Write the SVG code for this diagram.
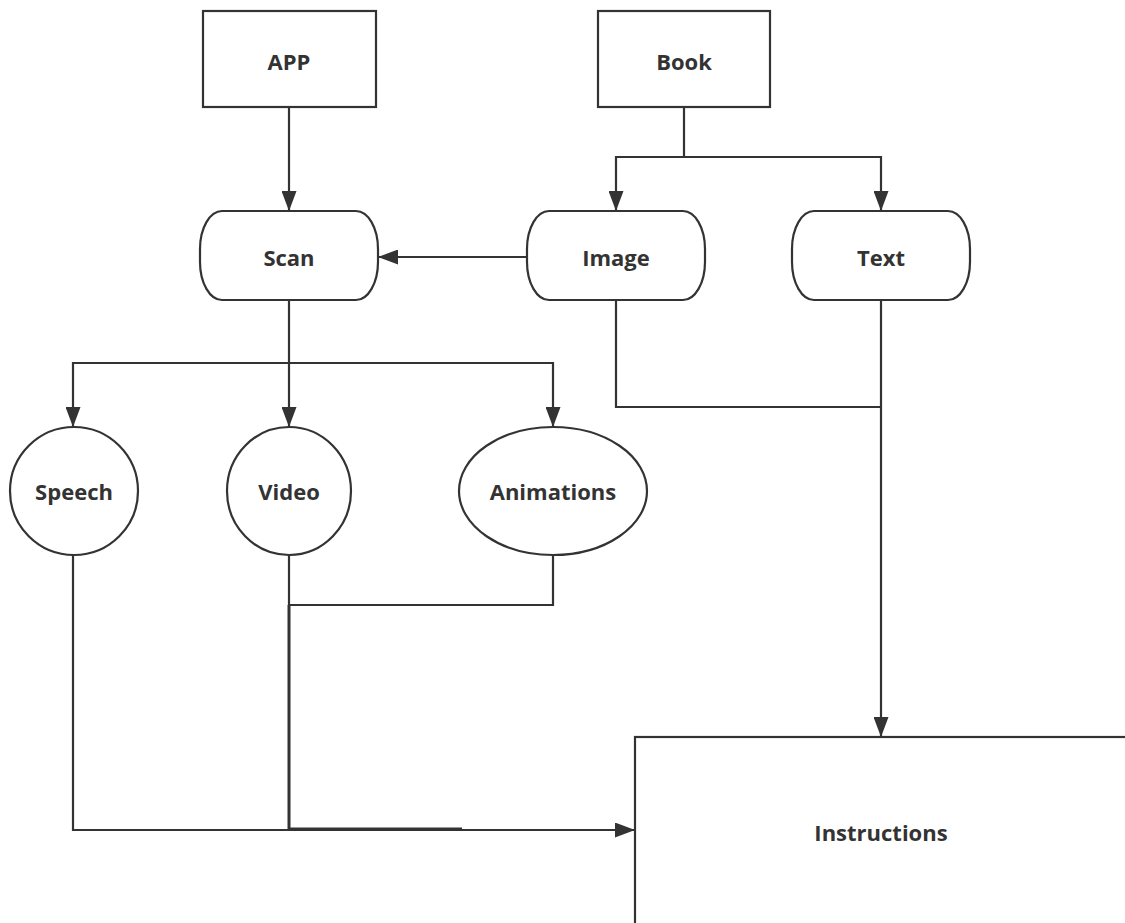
<svg xmlns="http://www.w3.org/2000/svg" width="1125" height="923" viewBox="0 0 1125 923">
<style>
.s{fill:#fff;stroke:#333;stroke-width:2.2}
.c{fill:none;stroke:#333;stroke-width:2.2}
.t{font-family:"Open Sans","Noto Sans",sans-serif;font-weight:bold;font-size:22px;fill:#333;text-anchor:middle;dominant-baseline:central}
</style>
<defs>
<marker id="a" markerWidth="20" markerHeight="15" refX="20" refY="7.5" orient="auto" markerUnits="userSpaceOnUse">
<path d="M0,0 L20,7.5 L0,15 Z" fill="#333"/>
</marker>
</defs>
<rect width="1125" height="923" fill="#fff"/>
<g id="connectors">
<path class="c" d="M289,107 V211" marker-end="url(#a)"/>
<path class="c" d="M684,107 V157 H616 V211" marker-end="url(#a)"/>
<path class="c" d="M684,157 H881 V211" marker-end="url(#a)"/>
<path class="c" d="M527,257 H378" marker-end="url(#a)"/>
<path class="c" d="M289,300 V427" marker-end="url(#a)"/>
<path class="c" d="M289,363 H73 V427" marker-end="url(#a)"/>
<path class="c" d="M289,363 H553 V427" marker-end="url(#a)"/>
<path class="c" d="M616,300 V407 H881"/>
<path class="c" d="M881,300 V737" marker-end="url(#a)"/>
<path class="c" d="M73,555 V830 H635" marker-end="url(#a)"/>
<path class="c" d="M289,555 V605 H553 V555"/>
<path class="c" style="stroke-width:3" d="M289,605 V829 H462"/>
</g>
<g id="app"><rect class="s" x="203" y="11" width="173" height="96"/><text class="t" x="289" y="61">APP</text></g>
<g id="book"><rect class="s" x="598" y="11" width="172" height="96"/><text class="t" x="684" y="61">Book</text></g>
<g id="scan"><rect class="s" x="200" y="211" width="178" height="89" rx="22" ry="38"/><text class="t" x="289" y="257">Scan</text></g>
<g id="image"><rect class="s" x="527" y="211" width="178" height="89" rx="22" ry="38"/><text class="t" x="616" y="257">Image</text></g>
<g id="text"><rect class="s" x="792" y="211" width="178" height="89" rx="22" ry="38"/><text class="t" x="881" y="257">Text</text></g>
<g id="speech"><ellipse class="s" cx="74" cy="491" rx="64" ry="64"/><text class="t" x="74" y="491">Speech</text></g>
<g id="video"><ellipse class="s" cx="289" cy="491" rx="62" ry="64"/><text class="t" x="289" y="491">Video</text></g>
<g id="animations"><ellipse class="s" cx="553" cy="491" rx="94" ry="64"/><text class="t" x="553" y="491">Animations</text></g>
<g id="instructions"><rect class="s" x="635" y="737" width="500" height="200"/><text class="t" x="881" y="832">Instructions</text></g>
</svg>
